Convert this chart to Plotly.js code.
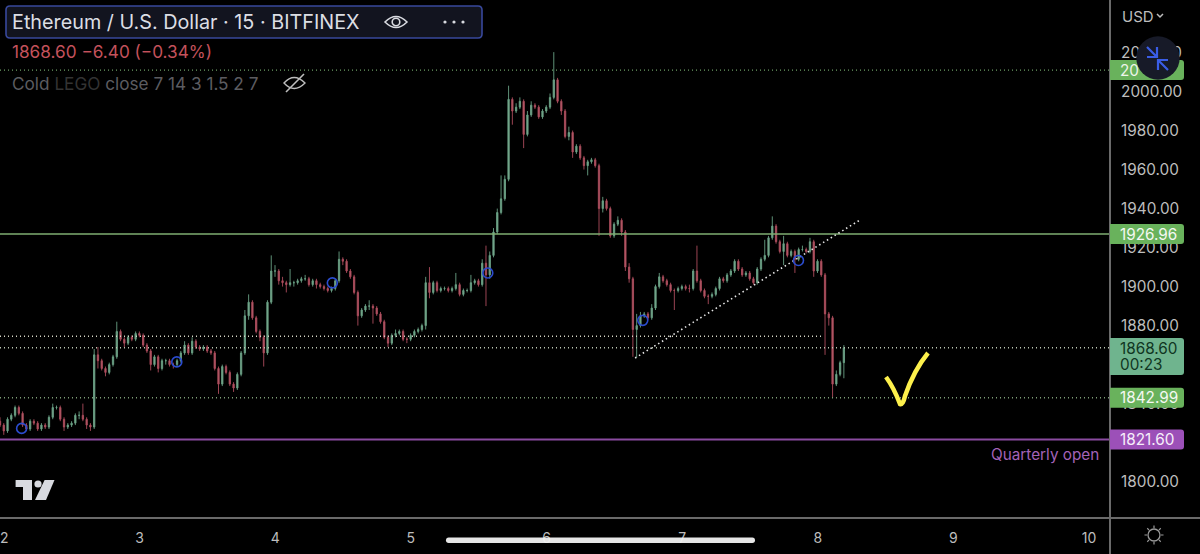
<!DOCTYPE html>
<html><head><meta charset="utf-8">
<script src="https://cdn.plot.ly/plotly-3.0.1.min.js"></script>
<style>html,body{margin:0;padding:0;background:#000;overflow:hidden}#c{width:1200px;height:554px}</style>
</head><body><div id="c"></div>
<script>
const startDay = 1.9705, barsPerDay = 36;
const opens = [
1831,1829,1826,1832,1834,1838,1835,1829,1827,1831,1830,1827,1829,1828,1833,1838,1838,1832,1828,1829,1830,1834,1834,1832,1829,
1828,1865,1862,1858,1856,1860,1864,1877,1873,1871,1874,1873,1876,1875,1870,1867,1860,1864,1858,1862,1862,1860,1860,1862,1866,
1870,1866,1872,1869,1868,1869,1867,1866,1858,1850,1859,1856,1850,1848,1855,1866,1885,1892,1884,1877,1874,1866,1892,1908,1908,
1903,1902,1901,1902,1902,1903,1904,1904,1901,1903,1901,1900,1899,1898,1899,1903,1914,1913,1908,1905,1897,1885,1888,1890,1890,
1889,1886,1882,1874,1871,1875,1876,1877,1873,1873,1875,1877,1878,1880,1902,1897,1902,1898,1899,1899,1898,1899,1901,1896,1898,1898,1902,1903,1901,1912,1906,1916,
1928,1938,1945,1955,1996,1990,1992,1995,1978,1988,1993,1992,1987,1990,1992,1997,2006,1995,1990,1977,1979,1969,1972,1966,1962,1964,1965,1962,1940,1944,1940,1926,1932,1934,
1928,1910,1904,1878,1880,1885,1886,1884,1889,1900,1905,1903,1901,1898,1898,1899,1900,1899,1899,1908,1903,1898,1895,1895,1896,
1899,1904,1903,1906,1908,1913,1909,1906,1907,1904,1902,1909,1914,1916,1925,1931,1923,1918,1922,1916,1918,1914,1919,1919,1918,1923,1908,1913,1906,1886,1884,1850,1855,1861];
const highs = [
1833,1830,1833,1835,1839,1839,1836,1830,1832,1832,1831,1830,1830,1834,1840,1839,1839,1833,1830,1831,1835,1836,1840,1833,1830,
1868,1869,1863,1859,1861,1865,1882,1878,1874,1875,1875,1877,1877,1876,1871,1868,1865,1865,1863,1863,1863,1861,1863,1867,1872,
1871,1874,1873,1870,1870,1870,1868,1867,1859,1860,1860,1857,1851,1856,1867,1888,1896,1893,1885,1878,1875,1893,1916,1911,1909,
1905,1903,1909,1903,1904,1905,1906,1905,1904,1904,1902,1901,1900,1900,1904,1918,1915,1914,1909,1906,1898,1889,1891,1893,1891,
1890,1887,1883,1875,1876,1878,1878,1878,1874,1876,1878,1879,1881,1905,1910,1903,1903,1900,1900,1900,1900,1907,1902,1899,1899,1906,1904,1904,1914,1921,1918,1930,
1940,1957,1957,2003,1997,1994,1997,1996,1990,1995,1994,1993,1991,1993,1999,2020.2,2007,1996,1991,1982,1980,1973,1973,1967,1965,1966,1966,1963,1946,1945,1941,1933,1936,1935,
1929,1912,1905,1886,1887,1887,1887,1891,1901,1907,1906,1904,1902,1899,1900,1901,1901,1901,1909,1921,1904,1899,1896,1897,1900,
1905,1905,1907,1909,1914,1914,1910,1908,1908,1905,1910,1915,1924,1926,1936,1932,1924,1926,1923,1919,1919,1920,1921,1920,1925,1924,1914,1914,1907,1887,1885,1857,1862,1870];
const lows = [
1828,1824,1825,1831,1833,1834,1828,1826,1826,1829,1826,1826,1827,1827,1832,1837,1831,1826,1827,1828,1829,1832,1831,1827,1826,
1827,1858,1857,1854,1855,1859,1863,1872,1869,1870,1872,1872,1874,1869,1866,1857,1859,1856,1857,1860,1859,1858,1859,1861,1865,
1865,1865,1868,1867,1867,1866,1865,1857,1845,1849,1855,1849,1846,1847,1854,1865,1883,1883,1876,1872,1859,1865,1891,1905,1901,
1900,1897,1900,1900,1901,1902,1903,1900,1900,1899,1899,1898,1897,1897,1898,1902,1911,1907,1904,1896,1880,1884,1887,1888,1881,
1885,1881,1873,1869,1870,1874,1875,1872,1871,1872,1874,1876,1877,1878,1894,1896,1897,1897,1898,1897,1897,1898,1895,1895,1897,1897,1901,1900,1900,1890,1904,1915,
1927,1937,1944,1954,1983,1989,1991,1971,1977,1987,1991,1986,1986,1989,1991,1996,1994,1988,1976,1975,1966,1968,1965,1960,1957,1963,1961,1926,1938,1939,1925,1925,1931,1926,
1908,1902,1864,1863.6,1879,1884,1883,1883,1888,1899,1902,1900,1897,1888,1897,1898,1898,1897,1898,1902,1897,1894,1891,1894,1895,
1898,1902,1902,1905,1907,1908,1905,1905,1903,1901,1901,1908,1913,1915,1924,1922,1917,1911,1915,1915,1907,1913,1918,1917,1917,1905,1907,1905,1865,1880,1843,1849,1854,1853];
const closes = [
1829,1826,1832,1834,1838,1835,1829,1827,1831,1830,1827,1829,1828,1833,1838,1838,1832,1828,1829,1830,1834,1834,1832,1829,1828,
1865,1862,1858,1856,1860,1864,1877,1873,1871,1874,1873,1876,1875,1870,1867,1860,1864,1858,1862,1862,1860,1860,1862,1866,1870,
1866,1872,1869,1868,1869,1867,1866,1858,1850,1859,1856,1850,1848,1855,1866,1885,1892,1884,1877,1874,1866,1892,1908,1908,1903,
1902,1901,1902,1902,1903,1904,1904,1901,1903,1901,1900,1899,1898,1899,1903,1914,1913,1908,1905,1897,1885,1888,1890,1890,1889,
1886,1882,1874,1871,1875,1876,1877,1873,1873,1875,1877,1878,1880,1902,1897,1902,1898,1899,1899,1898,1899,1901,1896,1898,1898,1902,1903,1901,1912,1906,1916,1928,
1938,1945,1955,1996,1990,1992,1995,1978,1988,1993,1992,1987,1990,1992,1997,2006,1995,1990,1977,1979,1969,1972,1966,1962,1964,1965,1962,1940,1944,1940,1926,1932,1934,1928,
1910,1904,1878,1880,1885,1886,1884,1889,1900,1905,1903,1901,1898,1898,1899,1900,1899,1899,1908,1903,1898,1895,1895,1896,1899,
1904,1903,1906,1908,1913,1909,1906,1907,1904,1902,1909,1914,1916,1925,1931,1923,1918,1922,1916,1918,1914,1919,1919,1918,1923,1908,1913,1906,1886,1884,1850,1855,1861,1868.6];

const xTicks = [3,4,5,6,7,8,9,10];
const yTicks = [1800,1840,1880,1900,1920,1940,1960,1980,2000,2020];
const xRange = [1.9705,10.155], yRange = [1781.36,2046.93];

const circleDays = [2.130,3.274,4.421,5.567,6.710,7.858];
const circlePrices = [1827.3,1861.4,1901.9,1907,1882.7,1913.4];
const trendDays = [6.6534,8.32], trendPrices = [1863.4,1934.5];

const resistanceLevel = 2011, solidLevel = 1926.96, lastPrice = 1868.6, supportLevel = 1842.99, quarterlyOpen = 1821.6, dottedLevel = 1874.6;
const dottedEndDay = 8.03;

const PW=1110,PH=518;
const X=x=>x/PW, Y=y=>1-y/PH;
const yOf=v=>(yRange[1]-v)/(yRange[1]-yRange[0])*PH;
const pth=s=>s.replace(/(-?[\d.]+)[ ,]+(-?[\d.]+)/g,(m,a,b)=>X(+a)+','+Y(+b));
const base={xref:'paper',yref:'paper'};
const P=(s,o)=>Object.assign({},base,{type:'path',path:pth(s),line:{width:0}},o);
const rr=(x0,y0,x1,y1,r)=>`M${x0+r} ${y0} L${x1-r} ${y0} Q${x1} ${y0} ${x1} ${y0+r} L${x1} ${y1-r} Q${x1} ${y1} ${x1-r} ${y1} L${x0+r} ${y1} Q${x0} ${y1} ${x0} ${y1-r} L${x0} ${y0+r} Q${x0} ${y0} ${x0+r} ${y0} Z`;
const rightTag=(y0,y1)=>`M1110 ${y0} L1181 ${y0} Q1184 ${y0} 1184 ${y0+3} L1184 ${y1-3} Q1184 ${y1} 1181 ${y1} L1110 ${y1} Z`;
const C=(cx,cy,r,o)=>Object.assign({},base,{type:'circle',x0:X(cx-r),x1:X(cx+r),y0:Y(cy+r),y1:Y(cy-r),line:{width:0}},o);
const L=(s,col,w)=>P(s,{line:{color:col,width:w},fillcolor:'rgba(0,0,0,0)'});
const A=(x,y,text,size,color,anchor,extra)=>Object.assign({},base,{x:X(x),y:Y(y),text,showarrow:false,xanchor:anchor||'left',yanchor:'middle',borderpad:0,font:{family:'Inter, "Noto Sans", sans-serif',size,color}},extra||{});

const fmt=v=>v.toFixed(2);
const gC='#69b25c', pC='#9c50b8', lC='#6fb48e';
const tag=(v,h,col)=>{const c=yOf(v);return P(rightTag(c-h/2,c+h/2),{fillcolor:col})};

const gearSpokes=[0,45,90,135,180,225,270,315].map(d=>{const a=d*Math.PI/180;const cx=1154,cy=535;return `M${cx+7*Math.cos(a)} ${cy+7*Math.sin(a)} L${cx+9.5*Math.cos(a)} ${cy+9.5*Math.sin(a)}`}).join(' ');

const shapes=[
 L('M1110 0 L1110 554','#6a6a6a',2),
 L('M0 518 L1200 518','#6a6a6a',2),
 tag(resistanceLevel,20,gC), tag(solidLevel,20,gC),
 P(rightTag(338,375),{fillcolor:lC}), tag(supportLevel,20,gC), tag(quarterlyOpen,20,pC),
 C(1158,58,21.7,{fillcolor:'#171a28'}),
 L('M1147 47 L1157 57 M1147 57 L1157 57 L1157 47','#3a5de6',2.2),
 L('M1168 70 L1158 60 M1168 60 L1158 60 L1158 70','#3a5de6',2.2),
 P(rr(6,6,482,38,4),{fillcolor:'#12141f',line:{color:'#38489c',width:1.6}}),
 L('M385 22 Q396 11 407 22 Q396 33 385 22 Z','#d8dae0',1.6),
 C(396,22,3.8,{line:{color:'#d8dae0',width:1.6},fillcolor:'rgba(0,0,0,0)'}),
 C(445,22,1.6,{fillcolor:'#d8dae0'}),C(454,22,1.6,{fillcolor:'#d8dae0'}),C(463,22,1.6,{fillcolor:'#d8dae0'}),
 L('M284 83 Q294 72 305 83 Q294 94 284 83 Z','#bdbdbd',1.4),
 L('M286 92 L304 74','#bdbdbd',1.6),
 L('M886 377 Q894 388 900 404 Q903 405 905 396 Q914 370 928 353','#fdf04c',4.5),
 P('M15.6 480 L32 480 L32 500 L23 500 L23 487 L15.6 487 Z',{fillcolor:'#d8dae0'}),
 C(38,484,3.6,{fillcolor:'#d8dae0'}),
 P('M44.6 480 L54.5 480 L46 500 L35 500 Z',{fillcolor:'#d8dae0'}),
 P(rr(446,537.5,755,543,2.7),{fillcolor:'#f2f2f2',opacity:0.95}),
 C(1154,535,6,{line:{color:'#9a9a9a',width:1.3},fillcolor:'rgba(0,0,0,0)'}),
 L(gearSpokes,'#9a9a9a',1.2),
 L('M1157 14 L1160 17 L1163 14','#bdbdbd',1.5)
];

const annotations=[
 A(11,22,'Ethereum / U.S. Dollar · 15 · BITFINEX',19.8,'#dcdee4'),
 A(11,51,'1868.60 &#8722;6.40 (&#8722;0.34%)',17.2,'#c4525c'),
 A(11,83,'Cold <span style="color:#333">LEGO</span> close 7 14 3 1.5 2 7',17.2,'#5c5c60'),
 A(1121,16.5,'USD',15,'#bdbdbd'),
 A(1119,yOf(resistanceLevel),'20',15.3,'#eef5ea'),
 A(1119,yOf(solidLevel),fmt(solidLevel),15.3,'#f4f8f2'),
 A(1119,348,fmt(lastPrice),15.3,'#103622'),
 A(1119,364.5,'00:23',15.3,'#103622'),
 A(1119,yOf(supportLevel),fmt(supportLevel),15.3,'#f4f8f2'),
 A(1119,yOf(quarterlyOpen),fmt(quarterlyOpen),15.3,'#f6eefa'),
 A(1100,454,'Quarterly open',15.3,'#a463b8','right'),
 {xref:'x',yref:'paper',x:2,y:Y(537),text:'2',showarrow:false,xanchor:'center',yanchor:'middle',font:{family:'Inter, "Noto Sans", sans-serif',size:14,color:'#bdbdbd'}}
];

const lvl=(y,color,dash,width,x1)=>({type:'scatter',mode:'lines',x:[xRange[0],x1||xRange[1]],y:[y,y],line:{color,dash,width},hoverinfo:'skip',showlegend:false});

const traces=[
 {type:'candlestick',x:closes.map((_,i)=>startDay+i/barsPerDay),open:opens,high:highs,low:lows,close:closes,
  increasing:{line:{color:'#69a084',width:0.9},fillcolor:'#7ea98f'},
  decreasing:{line:{color:'#ad4c5c',width:0.9},fillcolor:'#b5606a'},
  hoverinfo:'skip',showlegend:false},
 lvl(resistanceLevel,'#6d9f66','1px,3px',1.4),
 lvl(solidLevel,'#7fae72','solid',1.5),
 lvl(dottedLevel,'#d4d4c4','1px,3px',1.5,dottedEndDay),
 lvl(lastPrice,'#bcc8b4','1px,3px',1.5),
 lvl(supportLevel,'#7f9f78','1px,3px',1.4),
 lvl(quarterlyOpen,'#8a4ba0','solid',1.8),
 {type:'scatter',mode:'lines',x:trendDays,y:trendPrices,line:{color:'#e6e6e6',dash:'1.5px,3px',width:1.6},hoverinfo:'skip',showlegend:false},
 {type:'scatter',mode:'markers',x:circleDays,y:circlePrices,marker:{symbol:'circle-open',size:10,color:'#2b4ccf',line:{width:1.6,color:'#2b4ccf'}},hoverinfo:'skip',showlegend:false}
];

const layout={
 width:1200,height:554,autosize:false,margin:{l:0,r:90,t:0,b:36,pad:0},
 paper_bgcolor:'#000',plot_bgcolor:'#000',showlegend:false,boxgap:0.5,
 font:{family:'Inter, "Noto Sans", sans-serif',color:'#bdbdbd',size:14},
 xaxis:{type:'linear',range:xRange,tickmode:'array',tickvals:xTicks,ticktext:xTicks.map(String),showgrid:false,zeroline:false,showline:false,ticks:'outside',ticklen:7,tickcolor:'rgba(0,0,0,0)',tickfont:{size:14,color:'#bdbdbd'},rangeslider:{visible:false}},
 yaxis:{side:'right',range:yRange,tickmode:'array',tickvals:yTicks,ticktext:yTicks.map(fmt),showgrid:false,zeroline:false,showline:false,ticks:'outside',ticklen:7,tickfont:{size:15.3,color:'#bdbdbd'},tickcolor:'rgba(0,0,0,0)'},
 shapes,annotations
};
Plotly.newPlot('c',traces,layout,{staticPlot:true,displayModeBar:false});
</script></body></html>
